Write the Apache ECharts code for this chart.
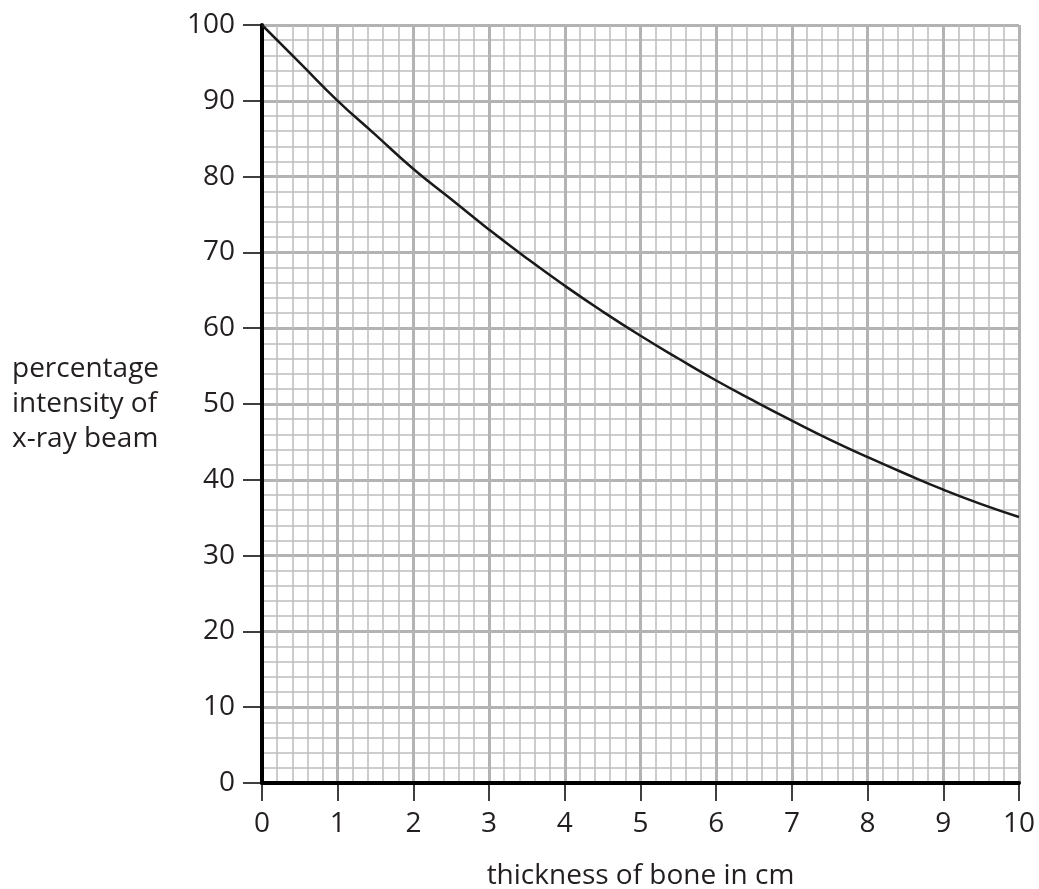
<!DOCTYPE html>
<html>
<head>
<meta charset="utf-8">
<script src="https://cdn.jsdelivr.net/npm/echarts@6/dist/echarts.min.js"></script>
<style>html,body{margin:0;padding:0;background:#fff}#c{width:1039px;height:889px}</style>
</head>
<body>
<div id="c"></div>
<script>
const thickness = [0,0.5,1,1.5,2,2.5,3,3.5,4,4.5,5,5.5,6,6.5,7,7.5,8,8.5,9,9.5,10];
const intensity = [100,95,90,85.5,81,77,73,69.2,65.6,62.2,59,56,53.1,50.4,47.8,45.3,43,40.8,38.7,36.8,35.1];
const xTicks = [0,1,2,3,4,5,6,7,8,9,10];
const yTicks = [0,10,20,30,40,50,60,70,80,90,100];
const xName = 'thickness of bone in cm';
const yName = 'percentage\nintensity of\nx-ray beam';

const font = '"Open Sans", "Noto Sans", sans-serif';
const txt = '#231f20';
const chart = echarts.init(document.getElementById('c'), null, {renderer:'canvas'});
chart.setOption({
  animation:false,
  backgroundColor:'#fff',
  grid:{left:262,right:20,top:25,bottom:106,containLabel:false,outerBoundsMode:'none'},
  xAxis:{
    type:'value',min:xTicks[0],max:xTicks[xTicks.length-1],interval:1,
    name:xName,nameLocation:'middle',nameGap:79,
    nameTextStyle:{fontFamily:font,fontSize:28,color:txt},
    axisLine:{show:true,onZero:false,lineStyle:{color:'#000',width:4}},
    axisTick:{show:true,length:18,lineStyle:{color:'#000',width:1.5}},
    axisLabel:{margin:27,fontFamily:font,fontSize:28,color:txt},
    splitLine:{show:true,lineStyle:{color:'#b3b3b3',width:3}},
    minorTick:{show:false,splitNumber:5},
    minorSplitLine:{show:true,lineStyle:{color:'#bdbdbd',width:1.5}}
  },
  yAxis:{
    type:'value',min:yTicks[0],max:yTicks[yTicks.length-1],interval:10,
    name:yName,nameLocation:'middle',nameRotate:0,nameGap:250,
    nameTextStyle:{fontFamily:font,fontSize:28,color:txt,align:'left',verticalAlign:'middle',lineHeight:35},
    axisLine:{show:true,onZero:false,lineStyle:{color:'#000',width:4}},
    axisTick:{show:true,length:19,lineStyle:{color:'#000',width:1.5}},
    axisLabel:{margin:27,fontFamily:font,fontSize:28,color:txt},
    splitLine:{show:true,lineStyle:{color:'#b3b3b3',width:3}},
    minorTick:{show:false,splitNumber:5},
    minorSplitLine:{show:true,lineStyle:{color:'#bdbdbd',width:1.5}}
  },
  series:[{
    type:'line',smooth:true,showSymbol:false,
    data:thickness.map((x,i)=>[x,intensity[i]]),
    lineStyle:{color:'#1a1a1a',width:2.5},
    z:5
  }]
});
</script>
</body>
</html>
